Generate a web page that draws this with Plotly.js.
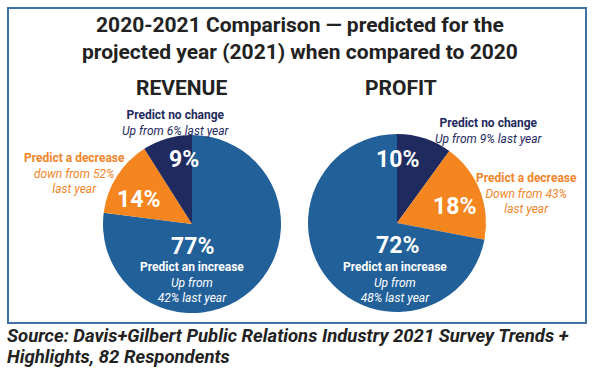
<!DOCTYPE html>
<html><head><meta charset="utf-8">
<script src="https://cdn.plot.ly/plotly-3.0.1.min.js"></script>
<style>html,body{margin:0;padding:0;background:#fff;}#chart{width:600px;height:368px;}</style>
</head><body><div id="chart"></div>
<script>
// Data
const revenueLabels = ["Predict an increase", "Predict a decrease", "Predict no change"];
const revenueValues = [77, 14, 9];
const revenueLastYear = [42, 52, 6];
const profitLabels = ["Predict no change", "Predict a decrease", "Predict an increase"];
const profitValues = [10, 18, 72];
const profitLastYear = [9, 43, 48];
const chartTitles = ["REVENUE", "PROFIT"];
const sourceLines = ["Source: Davis+Gilbert Public Relations Industry 2021 Survey Trends +", "Highlights, 82 Respondents"];

const FONT = '"Roboto", "Liberation Sans", sans-serif';
const colorOf = {"Predict an increase": "#22609a", "Predict a decrease": "#f5861f", "Predict no change": "#1f2a5e"};
const textColorOf = {"Predict an increase": "#ffffff", "Predict a decrease": "#f0852a", "Predict no change": "#1f2a5e"};

function pieTrace(labels, values, xd, yd) {
  return {
    type: 'pie', labels: labels, values: values, sort: false, direction: 'clockwise', rotation: 0,
    marker: {colors: labels.map(l => colorOf[l]), line: {width: 0}},
    textinfo: 'none', hoverinfo: 'label+percent', showlegend: false,
    domain: {x: xd, y: yd}
  };
}

const data = [
  pieTrace(revenueLabels, revenueValues, [103/600, 281/600], [55/368, 233/368]),
  pieTrace(profitLabels, profitValues, [308/600, 486/600], [56/368, 234/368])
];

// label placement (px from top-left)
const revPos = {
  "Predict an increase": {p: [192, 246], l: [192, 266]},
  "Predict a decrease": {p: [138, 199], l: [74, 157]},
  "Predict no change": {p: [184, 159], l: [176, 114]}
};
const proPos = {
  "Predict an increase": {p: [397, 245], l: [395, 266]},
  "Predict a decrease": {p: [454, 206], l: [526, 177]},
  "Predict no change": {p: [397, 160], l: [489, 122]}
};

function subText(label, last, chart) {
  if (label === "Predict an increase") return "Up from<br>" + last + "% last year";
  if (label === "Predict a decrease") return (chart === 0 ? "down" : "Down") + " from " + last + "%<br>last year";
  return "Up from " + last + "% last year";
}

const ann = [];
function px(x) { return x / 600; }
function py(y) { return 1 - y / 368; }
function addAnn(x, y, text, size, color, extra) {
  ann.push(Object.assign({xref: 'paper', yref: 'paper', x: px(x), y: py(y), text: text, showarrow: false,
    xanchor: 'center', yanchor: 'middle', font: {family: FONT, size: size, color: color}}, extra || {}));
}

[[revenueLabels, revenueValues, revenueLastYear, revPos], [profitLabels, profitValues, profitLastYear, proPos]].forEach((c, ci) => {
  const [labels, values, last, pos] = c;
  labels.forEach((lab, i) => {
    const P = pos[lab];
    addAnn(P.p[0], P.p[1], '<b>' + values[i] + '%</b>', 23, '#ffffff');
    const col = textColorOf[lab];
    const txt = '<b>' + lab + '</b><br><i>' + subText(lab, last[i], ci) + '</i>';
    ann.push({xref: 'paper', yref: 'paper', x: px(P.l[0]), y: py(P.l[1] - 8), text: txt, showarrow: false,
      xanchor: 'center', yanchor: 'top', align: 'center',
      font: {family: FONT, size: 12, color: col}});
  });
});

addAnn(181, 88, '<b>' + chartTitles[0] + '</b>', 21, '#222222');
addAnn(401, 88, '<b>' + chartTitles[1] + '</b>', 21, '#222222');
addAnn(300, 39, '<b>2020-2021 Comparison — predicted for the<br>projected year (2021) when compared to 2020</b>', 21, '#222222');
sourceLines.forEach((s, i) => {
  ann.push({xref: 'paper', yref: 'paper', x: px(6), y: py(336 + i * 21), xanchor: 'left', yanchor: 'middle', align: 'left', showarrow: false,
    borderpad: 0, text: '<b><i>' + s + '</i></b>', font: {family: FONT, size: 18.5, color: '#222222'}});
});

const layout = {
  width: 600, height: 368, margin: {l: 0, r: 0, t: 0, b: 0},
  paper_bgcolor: '#ffffff', plot_bgcolor: '#ffffff',
  font: {family: FONT},
  annotations: ann,
  shapes: [{type: 'rect', xref: 'paper', yref: 'paper', x0: px(8), x1: px(586), y0: py(8), y1: py(323),
    line: {color: '#3f72a3', width: 2}}]
};
Plotly.newPlot('chart', data, layout, {displayModeBar: false, staticPlot: true});
</script></body></html>
